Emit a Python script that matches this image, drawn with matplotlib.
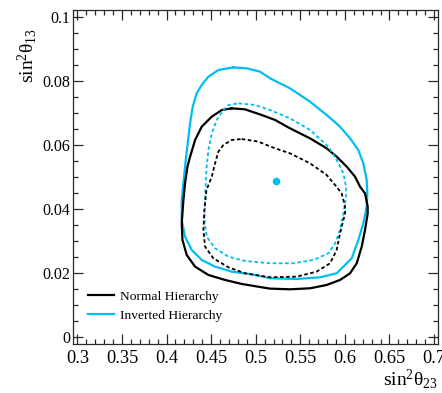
import matplotlib
matplotlib.use("Agg")
import matplotlib.pyplot as plt
from matplotlib.ticker import MultipleLocator, FuncFormatter

plt.rcParams["font.family"] = ["Liberation Serif", "DejaVu Serif"]
plt.rcParams["mathtext.fontset"] = "custom"
plt.rcParams["mathtext.rm"] = "Liberation Serif"
plt.rcParams["mathtext.it"] = "Liberation Serif:italic"

CYAN = "#00BEF2"

# Allowed regions in the (sin^2 theta23, sin^2 theta13) plane
nh90_x = [0.4731, 0.4880, 0.5067, 0.5217, 0.5385, 0.5609, 0.5796, 0.5908, 0.6021,
          0.6114, 0.6170, 0.6226, 0.6256, 0.6256, 0.6226, 0.6189, 0.6133, 0.6058,
          0.5946, 0.5796, 0.5609, 0.5385, 0.5161, 0.5067, 0.4843, 0.4656, 0.4469,
          0.4320, 0.4226, 0.4178, 0.4170, 0.4189, 0.4207, 0.4234, 0.4264, 0.4320,
          0.4394, 0.4507, 0.4619]
nh90_y = [0.07156, 0.07125, 0.06948, 0.06792, 0.06531, 0.06219, 0.05906, 0.05646, 0.05333,
          0.05021, 0.04708, 0.04500, 0.04083, 0.03875, 0.03354, 0.02833, 0.02313, 0.02000,
          0.01792, 0.01635, 0.01531, 0.01500, 0.01521, 0.01563, 0.01667, 0.01792, 0.01948,
          0.02208, 0.02573, 0.03042, 0.03563, 0.04292, 0.04813, 0.05333, 0.05646, 0.06167,
          0.06583, 0.06896, 0.07104]

nh68_x = [0.4843, 0.5030, 0.5217, 0.5385, 0.5609, 0.5796, 0.5890, 0.5964, 0.6002,
          0.6002, 0.5946, 0.5908, 0.5834, 0.5684, 0.5460, 0.5161, 0.4880, 0.4693,
          0.4525, 0.4432, 0.4413, 0.4424, 0.4447, 0.4507, 0.4544, 0.4581, 0.4637,
          0.4731]
nh68_y = [0.06198, 0.06115, 0.05906, 0.05750, 0.05438, 0.05073, 0.04760, 0.04500, 0.04083,
          0.03875, 0.03250, 0.02729, 0.02313, 0.02052, 0.01896, 0.01875, 0.02000, 0.02188,
          0.02469, 0.02833, 0.03354, 0.03979, 0.04600, 0.05021, 0.05438, 0.05802, 0.06010,
          0.06167]

ih90_x = [0.4750, 0.4899, 0.5049, 0.5161, 0.5385, 0.5609, 0.5796, 0.5946, 0.6058,
          0.6151, 0.6207, 0.6245, 0.6252, 0.6245, 0.6207, 0.6151, 0.6077, 0.5908,
          0.5721, 0.5460, 0.5161, 0.4955, 0.4731, 0.4544, 0.4394, 0.4282, 0.4207,
          0.4170, 0.4170, 0.4181, 0.4196, 0.4215, 0.4237, 0.4264, 0.4293, 0.4338,
          0.4394, 0.4469, 0.4581]
ih90_y = [0.08438, 0.08406, 0.08302, 0.08094, 0.07781, 0.07365, 0.06948, 0.06583, 0.06219,
          0.05854, 0.05438, 0.04917, 0.04500, 0.04083, 0.03563, 0.03042, 0.02469, 0.02000,
          0.01875, 0.01823, 0.01844, 0.01969, 0.02052, 0.02208, 0.02417, 0.02729, 0.03146,
          0.03667, 0.04292, 0.04604, 0.05021, 0.05542, 0.06063, 0.06688, 0.07208, 0.07625,
          0.07885, 0.08146, 0.08354]

ih68_x = [0.4806, 0.4993, 0.5161, 0.5385, 0.5609, 0.5815, 0.5908, 0.5983, 0.6013,
          0.6013, 0.5983, 0.5946, 0.5890, 0.5815, 0.5647, 0.5422, 0.5161, 0.4880,
          0.4693, 0.4544, 0.4450, 0.4424, 0.4432, 0.4439, 0.4450, 0.4469, 0.4507,
          0.4563, 0.4637, 0.4693]
ih68_y = [0.07313, 0.07260, 0.07104, 0.06844, 0.06479, 0.05958, 0.05542, 0.05125, 0.04708,
          0.04396, 0.03875, 0.03354, 0.02938, 0.02625, 0.02417, 0.02313, 0.02313, 0.02385,
          0.02521, 0.02781, 0.03146, 0.03667, 0.04292, 0.04813, 0.05333, 0.05854, 0.06375,
          0.06792, 0.07104, 0.07260]

best_fit = (0.523, 0.049)

x_range = (0.2947, 0.7048)
y_range = (-0.0021, 0.1023)


def closed(xs, ys):
    return list(xs) + [xs[0]], list(ys) + [ys[0]]


fig = plt.figure(figsize=(4.42, 3.93), dpi=100)
ax = fig.add_axes([72.7 / 442, 1 - 344 / 393, (438.3 - 72.7) / 442, (344 - 10) / 393])

solid_lw = 1.6
dash_lw = 1.3
dash = (2.0, 1.4)

x, y = closed(ih90_x, ih90_y)
ax.plot(x, y, color=CYAN, lw=solid_lw, label="Inverted Hierarchy")
x, y = closed(nh90_x, nh90_y)
ax.plot(x, y, color="black", lw=solid_lw, label="Normal Hierarchy")
x, y = closed(ih68_x, ih68_y)
ax.plot(x, y, color=CYAN, lw=dash_lw, linestyle=(0, dash))
x, y = closed(nh68_x, nh68_y)
ax.plot(x, y, color="black", lw=dash_lw, linestyle=(0, dash))
ax.plot([best_fit[0]], [best_fit[1]], "o", color=CYAN, ms=5.5, mec="none")

ax.set_xlim(*x_range)
ax.set_ylim(*y_range)

ax.xaxis.set_major_locator(MultipleLocator(0.05))
ax.xaxis.set_minor_locator(MultipleLocator(0.01))
ax.yaxis.set_major_locator(MultipleLocator(0.02))
ax.yaxis.set_minor_locator(MultipleLocator(0.005))
fmt = FuncFormatter(lambda v, p: f"{round(v, 4):g}")
ax.xaxis.set_major_formatter(fmt)
ax.yaxis.set_major_formatter(fmt)

for s in ax.spines.values():
    s.set_color("#2a2a2a")
    s.set_linewidth(0.9)

ax.tick_params(which="both", direction="in", top=True, right=True, color="#2a2a2a", width=0.9)
ax.tick_params(which="major", length=7.5)
ax.tick_params(which="minor", length=3.6)
ax.tick_params(axis="x", which="major", labelsize=13.2, pad=4)
ax.tick_params(axis="y", which="major", labelsize=11.5, pad=1.5)

fig.text(438 / 442, 1 - 385 / 393, r"$\mathrm{sin^{2}\theta_{23}}$", fontsize=14,
         ha="right", va="baseline")
fig.text(33 / 442, 1 - 28 / 393, r"$\mathrm{sin^{2}\theta_{13}}$", fontsize=14,
         rotation=90, rotation_mode="anchor", ha="right", va="baseline")

handles, labels = ax.get_legend_handles_labels()
order = [1, 0]
ax.legend([handles[i] for i in order], [labels[i] for i in order],
          loc="center left", bbox_to_anchor=(88 / 442, 1 - 306.2 / 393),
          bbox_transform=fig.transFigure, frameon=False, fontsize=9.7,
          handlelength=1.95, handletextpad=0.4, labelspacing=0.45,
          borderpad=0, borderaxespad=0)

fig.savefig("out.png", dpi=100)
